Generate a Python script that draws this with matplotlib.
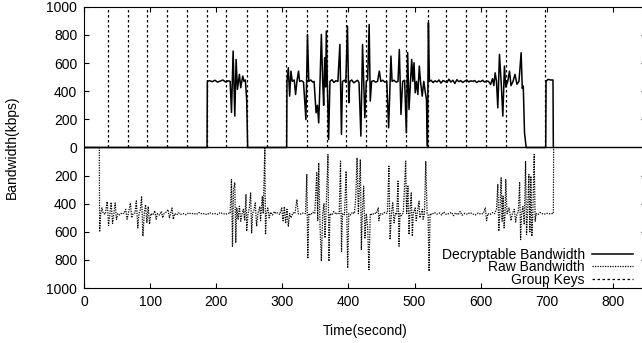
import matplotlib
matplotlib.use("Agg")
import matplotlib.pyplot as plt

plt.rcParams['font.family'] = ['Liberation Sans', 'DejaVu Sans']
plt.rcParams['font.size'] = 10

# decryptable bandwidth (kbps), top half
dec_t = [0, 186, 186.5, 190, 194, 198, 202, 206, 210, 214, 218, 221,
         223, 225.5, 228, 230, 232, 235, 237, 240, 242, 244, 246, 247.5,
         306.5, 307, 309, 311, 313, 315, 318, 320, 322, 324.5, 326, 329, 332,
         335.6, 338, 340, 343, 346, 348, 351, 353, 355, 357, 359, 361, 362.5,
         364, 365.5, 366.5, 368, 370, 372, 375, 378, 381, 384, 387, 389.4, 391,
         394, 396, 398.5, 400.5, 402, 405, 408, 411, 414, 416, 418.8, 421.3,
         424.8, 427, 429, 431.3, 433, 435, 438, 441, 444, 446.7, 449, 452, 455,
         458, 460.8, 464.3, 466, 469, 472, 475, 477, 479.5, 482, 485, 487.6,
         489.6, 491.6, 495.7, 497.5, 499.2, 501, 503, 505, 507.2, 509, 511.6,
         514, 516, 518, 519.5, 521, 522.5, 525, 528, 531, 534, 537, 540, 543,
         546, 549, 552, 555, 558, 561, 564, 567, 570, 573, 576, 579, 582, 585,
         588, 591, 594, 597, 600, 603, 606, 609, 612, 615, 618, 620, 622, 624,
         626, 628.5, 631, 633.6, 636, 638, 641, 643.7, 646, 649, 652, 655, 658,
         661.3, 663, 664.5, 666.4, 668.9, 698.5, 699, 702, 706, 709.5, 710]
dec_v = [0, 0, 470, 475, 468, 478, 465, 472, 480, 466, 474, 470,
         250, 686, 223, 626, 413, 520, 425, 508, 470, 480, 342, 0,
         0, 470, 567, 365, 543, 470, 480, 377, 470, 543, 470, 475, 465,
         199, 804, 470, 480, 465, 470, 247, 300, 175, 470, 804, 470, 300,
         638, 430, 828, 470, 57, 470, 482, 462, 475, 470, 733, 93, 470,
         478, 462, 864, 318, 470, 480, 460, 470, 478, 460, 81, 733,
         211, 470, 480, 875, 330, 470, 475, 465, 470, 543, 470, 478, 465,
         470, 140, 650, 470, 478, 465, 470, 697, 235, 470, 478, 104,
         674, 270, 626, 470, 603, 389, 470, 377, 579, 470, 365,
         470, 401, 342, 10, 887, 470, 478, 462, 474, 466, 480, 458, 476,
         470, 462, 485, 465, 478, 455, 482, 468, 475, 463, 472, 480, 466, 474,
         470, 476, 462, 472, 468, 478, 465, 472, 470, 448, 490, 440, 531, 470,
         282, 662, 470, 223, 579, 430, 470, 543, 440, 470, 520, 450, 470,
         674, 420, 437, 104, 0, 0, 472, 484, 480, 480, 0]

# raw bandwidth (kbps), drawn downwards in the bottom half
raw_t = [0, 23, 23.5, 25, 27, 29, 32, 35, 37, 39, 41, 43, 45, 47, 49, 51, 54,
         57, 60, 63, 65, 67, 70, 72, 74, 77, 79, 81.3, 83, 85, 87, 89, 91, 93,
         95, 97, 99, 101, 104, 107, 109, 111, 114, 117, 119, 121, 124, 127,
         129, 131, 133, 135, 137, 140, 143, 146, 150, 154, 158, 162, 166, 170,
         174, 178, 182, 186, 190, 194, 198, 202, 206, 210, 214, 218, 221, 223,
         224.5, 226, 228, 229.5, 231, 233, 235, 237, 239, 241, 243, 245, 246,
         248, 250, 252, 253.5, 255, 257, 259, 261, 263, 266, 267, 269.7, 271,
         273.5, 274.5, 276, 278, 280, 282, 285, 288, 290, 293, 296, 299, 301,
         303, 305, 307, 309, 311, 313, 316, 319, 322, 324, 327, 330, 333, 335,
         337, 338.5, 340, 343, 346, 349, 352, 353.5, 355, 357, 359, 361, 363,
         364.5, 366, 369, 370.5, 372, 375, 378, 381, 384, 386, 388, 389.5, 391,
         394, 396.5, 398.8, 400.5, 403, 406, 409, 411, 413, 415, 418, 419.5,
         421, 423, 425, 427, 429, 431, 433, 436, 439, 442, 445, 446, 448, 451,
         454, 457, 459, 461.2, 463, 465, 467, 469, 471, 473, 475, 476.5, 478,
         480, 483, 486.6, 488, 490, 491.6, 493, 495, 496.7, 498, 501, 502.5,
         504, 506.8, 508, 510, 512, 513, 515, 517, 519, 520.5, 522, 523.5, 526,
         530, 534, 538, 541, 544, 548, 552, 556, 559, 562, 566, 569, 572, 576,
         580, 584, 588, 592, 596, 600, 604, 607, 609, 611, 614, 618, 621, 624,
         626, 627.5, 629, 631, 632.5, 634, 635.5, 637, 638, 640, 643, 646, 648,
         651, 653, 655, 657, 659, 660.5, 662, 664, 666, 668, 669.5, 671, 673,
         674.5, 676, 677.5, 679, 681, 682.5, 684, 687, 690, 693, 696, 700, 704,
         708, 710, 710.5]
raw_v = [0, 0, 600, 470, 430, 470, 475, 385, 555, 470, 390, 540, 470, 394, 512, 470, 480,
         465, 470, 440, 510, 470, 395, 500, 470, 465, 380, 572, 470, 445, 346, 631, 470, 406,
         536, 420, 545, 470, 480, 450, 510, 470, 480, 455, 500, 470, 460, 441,
         500, 470, 430, 510, 470, 480, 465, 475, 470, 478, 465, 472, 468, 476,
         462, 472, 470, 478, 464, 472, 470, 476, 462, 470, 475, 468, 470, 228,
         702, 300, 251, 678, 430, 510, 418, 524, 470, 440, 520, 335, 595,
         470, 430, 323, 607, 470, 445, 394, 560, 470, 420, 520, 346, 470,
         5, 619, 470, 430, 500, 460, 480, 455, 470, 465, 475, 430, 520,
         420, 540, 440, 560, 470, 500, 465, 470, 370, 470, 475, 465, 470, 470,
         192, 790, 470, 480, 460, 470, 180, 520, 109, 560, 809, 470, 400,
         643, 470, 50, 809, 470, 480, 455, 475, 465, 470, 97, 738, 470,
         478, 168, 857, 470, 480, 460, 470, 358, 73, 470, 85, 726,
         470, 275, 643, 470, 560, 868, 470, 480, 465, 470, 430, 520, 470, 478,
         462, 470, 465, 133, 655, 470, 394, 536, 470, 478, 240, 702, 470,
         485, 465, 97, 470, 275, 619, 470, 323, 631, 470, 430, 520,
         470, 382, 500, 470, 440, 510, 470, 97, 470, 480, 880, 470, 478,
         462, 474, 466, 480, 458, 476, 470, 462, 485, 465, 478, 455, 482, 468,
         475, 463, 472, 480, 466, 474, 470, 430, 520, 470, 478, 462, 470, 440,
         263, 595, 470, 216, 524, 346, 572, 470, 228, 470, 430, 520, 470,
         440, 530, 470, 460, 251, 655, 470, 420, 548, 97, 619, 470, 192,
         600, 204, 631, 470, 50, 524, 470, 478, 462, 470, 475, 468, 472,
         470, 470, 0]

# group key deliveries (seconds)
key_t = [36, 66, 95, 125, 156, 186, 215, 247, 276, 306, 337, 367, 397, 427,
         457, 487, 521, 548, 578, 608, 638, 698]

yticks = [-1000, -800, -600, -400, -200, 0, 200, 400, 600, 800, 1000]
xticks = [0, 100, 200, 300, 400, 500, 600, 700, 800]

fig = plt.figure(figsize=(6.42, 3.43), dpi=100)
ax = fig.add_axes([0.131, 0.160, 0.875, 0.820])

ax.axhline(0, color='black', lw=1.0)
ax.plot(dec_t, dec_v, '-', color='black', lw=1.1, label='Decryptable Bandwidth')
ax.plot(raw_t, [-v for v in raw_v], color='black', lw=0.9,
        linestyle=(0, (1, 1)), label='Raw Bandwidth')
ax.vlines(key_t, 0, 1000, colors='black', lw=0.9, linestyles=[(0, (2, 2))])
ax.plot([], [], color='black', lw=0.9, linestyle=(0, (2, 2)), label='Group Keys')

ax.set_xlim(0, 850)
ax.set_ylim(-1000, 1000)
ax.set_xticks(xticks)
ax.set_yticks(yticks)
ax.set_yticklabels([str(abs(v)) for v in yticks])
ax.tick_params(direction='in', length=3.5, top=True, right=True, pad=5, labelsize=10)
ax.set_xlabel('Time(second)', fontsize=10, labelpad=11)
ax.set_ylabel('Bandwidth(kbps)', fontsize=10, labelpad=20)

ax.legend(loc='lower right', bbox_to_anchor=(0.995, -0.03), frameon=False,
          markerfirst=False, fontsize=10, handlelength=3.0, handletextpad=0.5,
          labelspacing=-0.1, borderpad=0.2)

fig.savefig('out.png', dpi=100)
